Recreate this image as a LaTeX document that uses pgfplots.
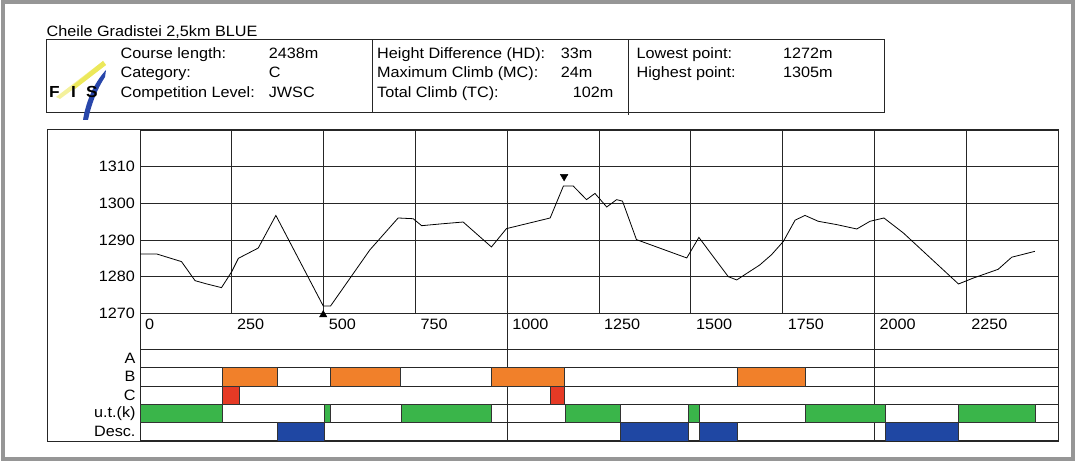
\documentclass[border=0pt]{standalone}
\usepackage{fontspec}
\setmainfont{Liberation Sans}[FakeStretch=1.08]
\usepackage{pgfplots}
\pgfplotsset{compat=1.18}
\definecolor{fisorange}{RGB}{241,128,42}
\definecolor{fisred}{RGB}{230,58,37}
\definecolor{fisgreen}{RGB}{58,181,74}
\definecolor{fisblue}{RGB}{31,71,163}
\definecolor{fisgray}{RGB}{150,150,150}
\definecolor{logoyellow}{RGB}{236,232,90}
\definecolor{logoblue}{RGB}{40,70,170}
\newcommand\f{\fontsize{15}{17}\selectfont}
\begin{document}
\begin{tikzpicture}[x=1pt,y=1pt]
\path[use as bounding box] (0,0) rectangle (1080,461);
\draw[line width=4pt, color=fisgray] (2.5,2.5) rectangle (1073,458.5);

% ---- header ----
\node[anchor=base west, inner sep=0pt] at (46.5,424.3) {\f Cheile Gradistei 2,5km BLUE};
\draw[line width=1pt, black!85] (46.5,348.7) rectangle (884,421);
\draw[line width=1pt, black!85] (372.3,421) -- (372.3,348.7);
\draw[line width=1pt, black!85] (628.8,421) -- (628.8,346);
% logo
\fill[logoyellow!60] (56,364) -- (103,400) -- (106,396) -- (60,362) -- cycle;
\fill[logoyellow] (72,375) -- (103,400) -- (106,396) -- (75,372) -- cycle;
\fill[logoblue] (83,341) .. controls (86,360) and (94,378) .. (106,391) -- (105,384) .. controls (97,372) and (91,356) .. (88,341) -- cycle;
\node[anchor=base west, inner sep=0pt] at (49,363.5) {\fontsize{16}{16}\selectfont\bfseries F};
\node[anchor=base west, inner sep=0pt] at (71,363.5) {\fontsize{16}{16}\selectfont\bfseries I};
\node[anchor=base west, inner sep=0pt] at (86,363.5) {\fontsize{16}{16}\selectfont\bfseries S};
% row 1
\node[anchor=base west, inner sep=0pt] at (120.5,402.7) {\f Course length:};
\node[anchor=base west, inner sep=0pt] at (268.6,402.7) {\f 2438m};
\node[anchor=base west, inner sep=0pt] at (377,402.7) {\f Height Difference (HD):};
\node[anchor=base west, inner sep=0pt] at (560.7,402.7) {\f 33m};
\node[anchor=base west, inner sep=0pt] at (636.4,402.7) {\f Lowest point:};
\node[anchor=base west, inner sep=0pt] at (782.8,402.7) {\f 1272m};
% row 2
\node[anchor=base west, inner sep=0pt] at (120.5,383) {\f Category:};
\node[anchor=base west, inner sep=0pt] at (268.6,383) {\f C};
\node[anchor=base west, inner sep=0pt] at (377,383) {\f Maximum Climb (MC):};
\node[anchor=base west, inner sep=0pt] at (560.7,383) {\f 24m};
\node[anchor=base west, inner sep=0pt] at (636.4,383) {\f Highest point:};
\node[anchor=base west, inner sep=0pt] at (782.8,383) {\f 1305m};
% row 3
\node[anchor=base west, inner sep=0pt] at (120.5,363.5) {\f Competition Level:};
\node[anchor=base west, inner sep=0pt] at (268.6,363.5) {\f JWSC};
\node[anchor=base west, inner sep=0pt] at (377,363.5) {\f Total Climb (TC):};
\node[anchor=base west, inner sep=0pt] at (572.7,363.5) {\f 102m};

% ---- frames ----
\draw[line width=1pt, black!85] (47,20) rectangle (1058,331);
\draw[line width=1pt, black!85] (140,20) -- (140,331);

% ---- profile axis ----
\begin{axis}[at={(140pt,147.7pt)}, anchor=south west, scale only axis,
  width=918pt, height=183.3pt,
  xmin=0, xmax=2500, ymin=1270, ymax=1320,
  xtick={0,250,...,2250}, ytick={1270,1280,...,1310},
  grid=major, major grid style={line width=0.9pt, black!85},
  axis line style={line width=1pt, black!85},
  major tick length=0pt, clip=false,
  tick label style={font=\f},
  /pgf/number format/assume math mode=true,
  /pgf/number format/1000 sep={},
  xticklabel style={anchor=west, inner sep=0pt, xshift=5pt, yshift=-10.7pt},
  yticklabel style={anchor=east, inner sep=0pt, xshift=-5pt},
]
\addplot[black, line width=0.8pt] coordinates {
(0,1286.2) (45,1286.2) (113,1284.1) (150,1278.9) (182,1278) (222,1277)
(250,1281.4) (268,1285) (322,1287.8) (370,1296.7) (499,1272) (519,1272)
(626,1287.3) (703,1296) (744,1295.8) (767,1293.9) (821,1294.4) (880,1294.9)
(957,1288.1) (998,1293.1) (1117,1296) (1153,1304.7) (1180,1304.7) (1216,1301)
(1239,1302.7) (1271,1299) (1298,1301) (1314,1300.6) (1352,1290.1) (1489,1285.1)
(1522,1290.7) (1602,1280) (1625,1279.1) (1688,1283.2) (1720,1286) (1752,1289.6)
(1784,1295.4) (1811,1296.7) (1847,1295.1) (1897,1294.2) (1952,1293) (1988,1295.1)
(2026,1296) (2079,1291.9) (2229,1278) (2269,1279.6) (2337,1282) (2374,1285.3)
(2437,1286.9)
};
\addplot[only marks, mark=triangle*, mark size=4.3pt, black] coordinates {(499,1269.6)};
\addplot[only marks, mark=triangle*, mark size=4.4pt, black, mark options={rotate=180}] coordinates {(1155,1307.3)};
\draw[line width=0.9pt, black!85] (axis cs:1000,1270) -- ++(0pt,-36pt);
\draw[line width=0.9pt, black!85] (axis cs:2000,1270) -- ++(0pt,-36pt);
\draw[line width=1pt, black!85] (axis cs:2500,1270) -- ++(0pt,-36pt);
\end{axis}

% ---- category bars axis ----
\begin{axis}[at={(140pt,20pt)}, anchor=south west, scale only axis,
  width=918pt, height=91.7pt,
  xmin=0, xmax=2500, ymin=0, ymax=5,
  xtick={1000,2000}, xticklabels={}, xmajorgrids,
  ytick={0.5,1.5,2.5,3.5,4.5},
  yticklabels={Desc.,u.t.(k),C,B,A},
  extra y ticks={1,2,3,4}, extra y tick labels={},
  extra y tick style={grid=major},
  major grid style={line width=0.9pt, black!85},
  axis line style={line width=1pt, black!85},
  major tick length=0pt,
  tick label style={font=\f},
  yticklabel style={anchor=east, inner sep=0pt, xshift=-4.3pt},
]
% B (orange)
\addplot[fill=fisorange, draw=black!80] coordinates {(225,3) (374,3) (374,4) (225,4)} -- cycle;
\addplot[fill=fisorange, draw=black!80] coordinates {(519,3) (708,3) (708,4) (519,4)} -- cycle;
\addplot[fill=fisorange, draw=black!80] coordinates {(956,3) (1155,3) (1155,4) (956,4)} -- cycle;
\addplot[fill=fisorange, draw=black!80] coordinates {(1626,3) (1812,3) (1812,4) (1626,4)} -- cycle;
% C (red)
\addplot[fill=fisred, draw=black!80] coordinates {(225,2) (270,2) (270,3) (225,3)} -- cycle;
\addplot[fill=fisred, draw=black!80] coordinates {(1117,2) (1155,2) (1155,3) (1117,3)} -- cycle;
% u.t.(k) (green)
\addplot[fill=fisgreen, draw=black!80] coordinates {(0,1) (225,1) (225,2) (0,2)} -- cycle;
\addplot[fill=fisgreen, draw=black!80] coordinates {(501,1) (519,1) (519,2) (501,2)} -- cycle;
\addplot[fill=fisgreen, draw=black!80] coordinates {(710,1) (956,1) (956,2) (710,2)} -- cycle;
\addplot[fill=fisgreen, draw=black!80] coordinates {(1157,1) (1309,1) (1309,2) (1157,2)} -- cycle;
\addplot[fill=fisgreen, draw=black!80] coordinates {(1492,1) (1524,1) (1524,2) (1492,2)} -- cycle;
\addplot[fill=fisgreen, draw=black!80] coordinates {(1812,1) (2029,1) (2029,2) (1812,2)} -- cycle;
\addplot[fill=fisgreen, draw=black!80] coordinates {(2228,1) (2438,1) (2438,2) (2228,2)} -- cycle;
% Desc. (blue)
\addplot[fill=fisblue, draw=black!80] coordinates {(374,0) (501,0) (501,1) (374,1)} -- cycle;
\addplot[fill=fisblue, draw=black!80] coordinates {(1309,0) (1492,0) (1492,1) (1309,1)} -- cycle;
\addplot[fill=fisblue, draw=black!80] coordinates {(1524,0) (1626,0) (1626,1) (1524,1)} -- cycle;
\addplot[fill=fisblue, draw=black!80] coordinates {(2029,0) (2228,0) (2228,1) (2029,1)} -- cycle;
\end{axis}
\end{tikzpicture}
\end{document}
